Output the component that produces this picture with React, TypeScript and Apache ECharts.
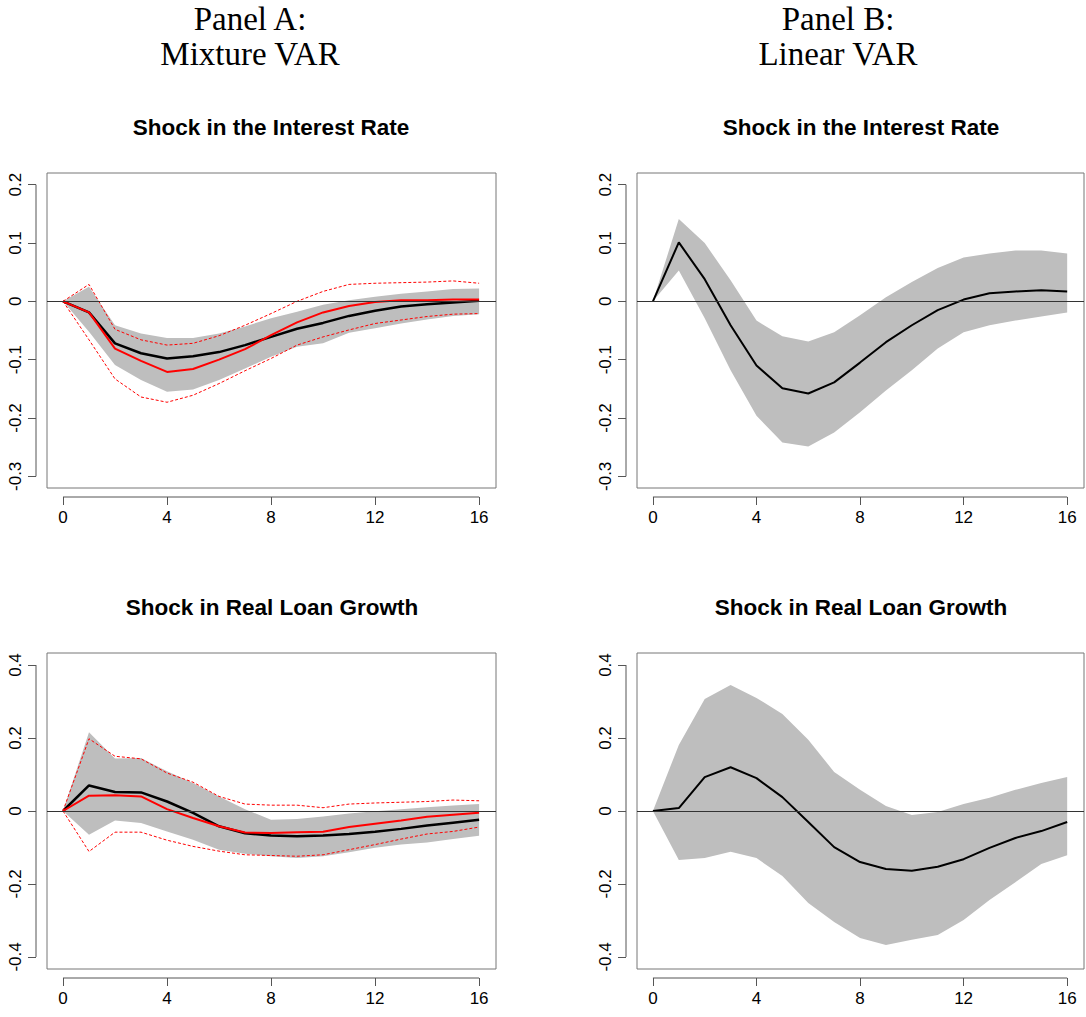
import React, { useEffect, useRef } from "react";
import * as echarts from "echarts";

const horizon = [0,1,2,3,4,5,6,7,8,9,10,11,12,13,14,15,16];

// Panel A, interest rate shock
const aIrBlack = [0,-0.019,-0.072,-0.089,-0.098,-0.094,-0.087,-0.075,-0.061,-0.047,-0.037,-0.025,-0.016,-0.009,-0.005,-0.002,0.001];
const aIrRed = [0,-0.019,-0.081,-0.102,-0.121,-0.116,-0.1,-0.082,-0.058,-0.036,-0.019,-0.008,-0.001,0.002,0.002,0.003,0.003];
const aIrRedUp = [0,0.029,-0.048,-0.066,-0.075,-0.072,-0.059,-0.041,-0.021,0,0.017,0.029,0.031,0.032,0.033,0.035,0.031];
const aIrRedLo = [0,-0.066,-0.133,-0.164,-0.173,-0.161,-0.141,-0.119,-0.098,-0.075,-0.061,-0.049,-0.038,-0.032,-0.026,-0.022,-0.021];
const aIrBandUp = [0,0.025,-0.041,-0.055,-0.063,-0.063,-0.055,-0.043,-0.029,-0.018,-0.006,0.002,0.008,0.013,0.017,0.021,0.022];
const aIrBandLo = [0,-0.052,-0.109,-0.135,-0.155,-0.151,-0.135,-0.115,-0.095,-0.078,-0.072,-0.054,-0.046,-0.038,-0.031,-0.025,-0.022];

// Panel A, loan growth shock
const aLgBlack = [0,0.07,0.052,0.051,0.026,-0.005,-0.042,-0.061,-0.067,-0.069,-0.067,-0.063,-0.057,-0.049,-0.04,-0.032,-0.024];
const aLgRed = [0,0.042,0.043,0.04,0.005,-0.019,-0.042,-0.059,-0.06,-0.058,-0.057,-0.044,-0.035,-0.026,-0.016,-0.01,-0.005];
const aLgRedUp = [0,0.198,0.15,0.143,0.104,0.079,0.04,0.019,0.016,0.016,0.009,0.019,0.022,0.024,0.026,0.03,0.028];
const aLgRedLo = [0,-0.111,-0.058,-0.058,-0.08,-0.097,-0.11,-0.12,-0.122,-0.124,-0.12,-0.106,-0.092,-0.077,-0.063,-0.056,-0.044];
const aLgBandUp = [0,0.216,0.144,0.145,0.109,0.077,0.04,0.005,-0.024,-0.022,-0.015,-0.007,-0.001,0.005,0.01,0.015,0.019];
const aLgBandLo = [0,-0.065,-0.026,-0.033,-0.056,-0.079,-0.106,-0.117,-0.124,-0.129,-0.124,-0.113,-0.101,-0.092,-0.086,-0.077,-0.068];

// Panel B, interest rate shock
const bIrLine = [0,0.101,0.038,-0.041,-0.11,-0.149,-0.158,-0.139,-0.105,-0.07,-0.041,-0.015,0.003,0.014,0.017,0.019,0.017];
const bIrBandUp = [0,0.141,0.1,0.036,-0.033,-0.06,-0.069,-0.053,-0.024,0.007,0.033,0.057,0.075,0.082,0.087,0.087,0.082];
const bIrBandLo = [0,0.053,-0.029,-0.118,-0.196,-0.242,-0.249,-0.225,-0.19,-0.153,-0.118,-0.081,-0.053,-0.041,-0.033,-0.026,-0.019];

// Panel B, loan growth shock
const bLgLine = [0,0.008,0.093,0.12,0.09,0.038,-0.03,-0.099,-0.14,-0.159,-0.164,-0.153,-0.132,-0.101,-0.074,-0.055,-0.03];
const bLgBandUp = [0,0.181,0.307,0.345,0.31,0.266,0.195,0.107,0.058,0.014,-0.011,-0.003,0.019,0.036,0.058,0.077,0.093];
const bLgBandLo = [0,-0.134,-0.129,-0.112,-0.129,-0.178,-0.252,-0.304,-0.348,-0.367,-0.353,-0.34,-0.299,-0.244,-0.195,-0.145,-0.121];

const xTicks = [0, 4, 8, 12, 16];
const yTicksIr = [-0.3, -0.2, -0.1, 0, 0.1, 0.2];
const yTicksLg = [-0.4, -0.2, 0, 0.2, 0.4];

const titles = ["Shock in the Interest Rate", "Shock in the Interest Rate", "Shock in Real Loan Growth", "Shock in Real Loan Growth"];

const SANS = "'Liberation Sans', Arial, sans-serif";
const SERIF = "'Liberation Serif', 'DejaVu Serif', serif";

export default function App() {
  const ref = useRef<HTMLDivElement>(null);
  useEffect(() => {
    document.body.style.margin = "0";
    const chart = echarts.init(ref.current!, null, { renderer: "svg" });
    const boxes = [
      { left: 47, top: 173, width: 449, height: 315 },
      { left: 637, top: 173, width: 447, height: 315 },
      { left: 47, top: 653, width: 449, height: 316 },
      { left: 637, top: 653, width: 447, height: 316 },
    ];
    const grids = boxes.map((g) => ({ ...g, show: true, borderColor: "#777", borderWidth: 1, backgroundColor: "transparent" }));

    const yRanges = [[-0.32, 0.22], [-0.32, 0.22], [-0.433, 0.433], [-0.433, 0.433]];
    const yTicks = [yTicksIr, yTicksIr, yTicksLg, yTicksLg];
    const fmt = (v: number) => (v === 0 ? "0" : v.toFixed(1));
    const XOFF = 9, YOFF = 11;

    const xAxis = grids.map((_, i) => ({
      type: "value", gridIndex: i, min: -0.615, max: 16.65, offset: XOFF, position: "bottom",
      axisLine: { show: false, onZero: false },
      axisTick: { show: true, length: 8, customValues: xTicks, lineStyle: { color: "#555" } },
      axisLabel: { customValues: xTicks, color: "#000", fontSize: 17, fontFamily: SANS, margin: 12 },
      splitLine: { show: false },
    }));
    const yAxis = grids.map((_, i) => ({
      type: "value", gridIndex: i, min: yRanges[i][0], max: yRanges[i][1], offset: YOFF, position: "left",
      axisLine: { show: false, onZero: false },
      axisTick: { show: true, length: 8, customValues: yTicks[i], lineStyle: { color: "#555" } },
      axisLabel: { customValues: yTicks[i], rotate: 90, color: "#000", fontSize: 17, fontFamily: SANS, margin: 12, formatter: fmt },
      splitLine: { show: false },
    }));

    // axis lines spanning only the tick range, as in R
    const axisLines = (i: number) => ({
      type: "custom", xAxisIndex: i, yAxisIndex: i, data: [0], z: 5, silent: true,
      renderItem: (_p: any, api: any) => {
        const b = boxes[i];
        const yt = yTicks[i];
        const yTop = api.coord([0, yt[yt.length - 1]])[1];
        const yBot = api.coord([0, yt[0]])[1];
        const xL = api.coord([xTicks[0], 0])[0];
        const xR = api.coord([xTicks[xTicks.length - 1], 0])[0];
        const ax = b.left - YOFF, ay = b.top + b.height + XOFF;
        return {
          type: "group",
          children: [
            { type: "line", shape: { x1: ax, y1: yTop, x2: ax, y2: yBot }, style: { stroke: "#555", lineWidth: 1 } },
            { type: "line", shape: { x1: xL, y1: ay, x2: xR, y2: ay }, style: { stroke: "#555", lineWidth: 1 } },
          ],
        };
      },
    });

    const band = (i: number, up: number[], lo: number[]) => ({
      type: "custom", xAxisIndex: i, yAxisIndex: i, data: [0], z: 1,
      renderItem: (_p: any, api: any) => {
        const pts: number[][] = [];
        horizon.forEach((h, k) => pts.push(api.coord([h, up[k]])));
        for (let k = horizon.length - 1; k >= 0; k--) pts.push(api.coord([horizon[k], lo[k]]));
        return { type: "polygon", shape: { points: pts }, style: { fill: "#bebebe" } };
      },
    });
    const line = (i: number, ys: number[], color: string, width: number, dashed = false, zero = false) => ({
      type: "line", xAxisIndex: i, yAxisIndex: i, z: 3,
      data: horizon.map((h, k) => [h, ys[k]]), symbol: "none",
      lineStyle: { color, width, type: dashed ? [3, 2] : "solid" },
      ...(zero ? { markLine: { silent: true, symbol: "none", label: { show: false }, lineStyle: { color: "#333", width: 1, type: "solid" }, data: [{ yAxis: 0 }] } } : {}),
    });

    const series: any[] = [
      band(0, aIrBandUp, aIrBandLo),
      line(0, aIrBlack, "#000", 2.5, false, true),
      line(0, aIrRed, "#ff0000", 2),
      line(0, aIrRedUp, "#ff0000", 1, true),
      line(0, aIrRedLo, "#ff0000", 1, true),
      band(1, bIrBandUp, bIrBandLo),
      line(1, bIrLine, "#000", 2, false, true),
      band(2, aLgBandUp, aLgBandLo),
      line(2, aLgBlack, "#000", 2.5, false, true),
      line(2, aLgRed, "#ff0000", 2),
      line(2, aLgRedUp, "#ff0000", 1, true),
      line(2, aLgRedLo, "#ff0000", 1, true),
      band(3, bLgBandUp, bLgBandLo),
      line(3, bLgLine, "#000", 2, false, true),
      axisLines(0), axisLines(1), axisLines(2), axisLines(3),
    ];

    const titleCenters = [271, 861, 272, 861];
    const titleTops = [116, 116, 596, 596];
    const graphic: any[] = titles.map((t, i) => ({
      type: "text", x: titleCenters[i], y: titleTops[i],
      style: { text: t, fontSize: 22.5, fontWeight: "bold", fontFamily: SANS, fill: "#000", align: "center" },
    }));
    [["Panel A:", "Mixture VAR", 250], ["Panel B:", "Linear VAR", 838]].forEach(([a, b, x]) => {
      graphic.push({ type: "text", x, y: 2, style: { text: a, fontSize: 33, fontFamily: SERIF, fill: "#000", align: "center" } });
      graphic.push({ type: "text", x, y: 37, style: { text: b, fontSize: 33, fontFamily: SERIF, fill: "#000", align: "center" } });
    });

    chart.setOption({ animation: false, backgroundColor: "#fff", grid: grids, xAxis, yAxis, series, graphic });
    return () => chart.dispose();
  }, []);
  return <div ref={ref} style={{ width: 1086, height: 1017 }} />;
}
